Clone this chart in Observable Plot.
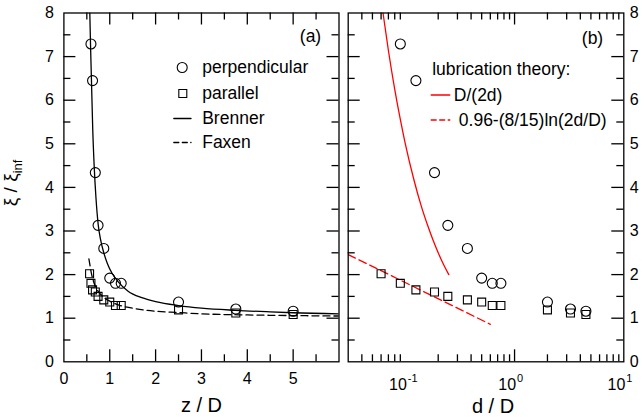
<!DOCTYPE html>
<html><head><meta charset="utf-8">
<script src="https://cdn.jsdelivr.net/npm/d3@7"></script>
<script src="https://cdn.jsdelivr.net/npm/@observablehq/plot@0.6"></script>
<style>
html,body{margin:0;padding:0;background:#fff;}
#wrap{position:relative;width:644px;height:417px;overflow:hidden;background:#fff;}
#wrap > svg{position:absolute;top:0;}
</style></head><body><div id="wrap"></div>
<script>
// ---- data ----
// measured gap d/D (panel b) ; panel a uses z/D = d/D + 1/2
const perpD  = [0.09, 0.125, 0.185, 0.245, 0.37, 0.5, 0.625, 0.75, 2.0, 3.25, 4.5];
const perpXi = [7.29, 6.45, 4.34, 3.13, 2.6, 1.92, 1.8, 1.8, 1.37, 1.21, 1.16];
const parD   = [0.06, 0.09, 0.125, 0.185, 0.245, 0.37, 0.5, 0.625, 0.75, 2.0, 3.25, 4.5];
const parXi  = [2.02, 1.80, 1.65, 1.60, 1.50, 1.42, 1.37, 1.29, 1.29, 1.19, 1.12, 1.085];
// Brenner curve (panel a)
const brennerZ  = [0.565, 0.58, 0.60, 0.63, 0.66, 0.70, 0.75, 0.80, 0.87, 0.95, 1.05, 1.18, 1.4, 1.7, 2.0, 2.5, 3.0, 3.75, 4.5, 5.0, 6.0];
const brennerXi = [8.0, 7.3, 6.5, 5.3, 4.5, 3.75, 3.13, 2.8, 2.5, 2.25, 2.03, 1.84, 1.62, 1.47, 1.38, 1.29, 1.23, 1.18, 1.145, 1.125, 1.1];
// Faxen curve (panel a)
const faxenZ  = [0.545, 0.56, 0.6, 0.65, 0.7, 0.8, 0.9, 1.0, 1.2, 1.5, 2.0, 2.5, 3.0, 4.0, 5.0, 6.0];
const faxenXi = [2.36, 2.27, 2.03, 1.83, 1.70, 1.55, 1.45, 1.39, 1.30, 1.23, 1.16, 1.13, 1.10, 1.075, 1.06, 1.05];
// lubrication theory (panel b)
const lubPerpD  = [0.0625, 0.07, 0.08, 0.09, 0.1, 0.12, 0.14, 0.16, 0.18, 0.2, 0.225, 0.25];
const lubPerpXi = [8.0, 7.14, 6.25, 5.56, 5.0, 4.17, 3.57, 3.13, 2.78, 2.5, 2.22, 2.0];
const lubParD   = [0.03, 0.6];
const lubParXi  = [2.46, 0.86];
// ticks
const yLabels   = [0, 1, 2, 3, 4, 5, 6, 7, 8];
const yMajor    = [1, 2, 3, 4, 5, 6, 7];
const yMinor    = [0.5, 1.5, 2.5, 3.5, 4.5, 5.5, 6.5, 7.5];
const zLabels   = [0, 1, 2, 3, 4, 5];
const zMajor    = [1, 2, 3, 4, 5];
const zMinor    = [0.5, 1.5, 2.5, 3.5, 4.5, 5.5];
const dDecades  = [0.1, 1, 10];
const dExponents = ["-1", "0", "1"];
const dMinor    = [0.04, 0.05, 0.06, 0.07, 0.08, 0.09, 0.2, 0.3, 0.4, 0.5, 0.6, 0.7, 0.8, 0.9, 2, 3, 4, 5, 6, 7, 8, 9];

const perp = perpD.map((d, i) => ({d, z: d + 0.5, xi: perpXi[i]}));
const par  = parD.map((d, i) => ({d, z: d + 0.5, xi: parXi[i]}));
const brenner = brennerZ.map((z, i) => ({z, xi: brennerXi[i]}));
const faxen   = faxenZ.map((z, i) => ({z, xi: faxenXi[i]}));
const lubPerp = lubPerpD.map((d, i) => ({d, xi: lubPerpXi[i]}));
const lubPar  = lubParD.map((d, i) => ({d, xi: lubParXi[i]}));

// ---- layout ----
const FONT = '"Liberation Sans", Arial, Helvetica, sans-serif';
const TOP = 12.5, BOTTOM = 361.3, FULLH = 417;
const A = {left: 63.4, right: 338.5, svgX: 0, svgW: 343};
const B = {left: 347.7, right: 623.3, svgX: 343, svgW: 301};
const MAJ = 12, MIN = 7, SW = 1.3;
const innerH = BOTTOM - TOP;
const style = {fontFamily: FONT, fontSize: "16px", color: "black", background: "transparent", overflow: "visible"};
const LEG = 17.5;

function boxTicks(xVals, yVals, innerW, len) {
  const o = {stroke: "black", strokeWidth: SW};
  return [
    Plot.tickX(xVals, {...o, x: d => d, insetTop: innerH - len}),
    Plot.tickX(xVals, {...o, x: d => d, insetBottom: innerH - len}),
    Plot.tickY(yVals, {...o, y: d => d, insetRight: innerW - len}),
    Plot.tickY(yVals, {...o, y: d => d, insetLeft: innerW - len})
  ];
}
const hline = {draw(context, l) { context.moveTo(0, 0); context.lineTo(l, 0); }};
function swatch(P, x1, x2, y, opts) {
  return Plot.vector([0], {frameAnchor: "top-left", dx: x1 - P.left, dy: y - TOP, length: x2 - x1,
    rotate: 0, anchor: "start", shape: hline, strokeWidth: SW, ...opts});
}
function legText(P, x, y, t, extra = {}) {
  return Plot.text([t], {frameAnchor: "top-left", dx: x - P.left, dy: y - TOP, text: d => d,
    textAnchor: "start", lineAnchor: "middle", fontSize: LEG, fill: "black", ...extra});
}

// ---- panel (a) ----
const innerWA = A.right - A.left;
const svgA = Plot.plot({
  width: A.svgW, height: FULLH,
  marginLeft: A.left - A.svgX, marginRight: A.svgX + A.svgW - A.right,
  marginTop: TOP, marginBottom: FULLH - BOTTOM,
  style,
  x: {type: "linear", domain: [0, 6]},
  y: {type: "linear", domain: [0, 8]},
  marks: [
    ...boxTicks(zMajor, yMajor, innerWA, MAJ),
    ...boxTicks(zMinor, yMinor, innerWA, MIN),
    Plot.axisX(zLabels, {anchor: "bottom", tickSize: 0, tickPadding: 11, fontSize: 16, label: null}),
    Plot.axisY(yLabels, {anchor: "left", tickSize: 0, tickPadding: 10, fontSize: 16, label: null}),
    Plot.line(faxen, {x: "z", y: "xi", stroke: "black", strokeWidth: SW, strokeDasharray: "7,4", curve: "monotone-x", clip: true}),
    Plot.line(brenner, {x: "z", y: "xi", stroke: "black", strokeWidth: SW, curve: "monotone-x", clip: true}),
    Plot.dot(perp, {x: "z", y: "xi", r: 5, stroke: "black", strokeWidth: 1.1, fill: "none"}),
    Plot.dot(par, {x: "z", y: "xi", symbol: "square", r: 4.5, stroke: "black", strokeWidth: 1.1, fill: "none"}),
    // legend
    Plot.dot([0], {frameAnchor: "top-left", dx: 181.7 - A.left, dy: 67 - TOP, r: 5, stroke: "black", strokeWidth: 1.1, fill: "none"}),
    Plot.dot([0], {frameAnchor: "top-left", dx: 182.3 - A.left, dy: 93 - TOP, symbol: "square", r: 4.5, stroke: "black", strokeWidth: 1.1, fill: "none"}),
    swatch(A, 173.3, 190.5, 118, {stroke: "black"}),
    swatch(A, 173.3, 190.5, 142, {stroke: "black", strokeDasharray: "5,3.5"}),
    legText(A, 201.7, 67, "perpendicular"),
    legText(A, 201.7, 93, "parallel"),
    legText(A, 201.7, 118, "Brenner"),
    legText(A, 201.7, 142, "Faxen"),
    legText(A, 320.7, 36, "(a)", {textAnchor: "end"}),
    Plot.text(["z / D"], {frameAnchor: "bottom", dy: 44, text: d => d, fontSize: 20, lineAnchor: "middle", fill: "black"}),
    Plot.frame({stroke: "black", strokeWidth: SW})
  ]
});
svgA.style.left = A.svgX + "px";

// y title with subscript
const yt = d3.select(svgA).append("text")
  .attr("transform", `translate(17,${(TOP + BOTTOM) / 2 - 4}) rotate(-90)`)
  .attr("text-anchor", "middle").attr("font-size", 19).attr("font-family", FONT).attr("fill", "black");
yt.append("tspan").text("ξ / ξ");
yt.append("tspan").attr("font-size", 13).attr("dy", "0.35em").text("inf");

// ---- panel (b) ----
const innerWB = B.right - B.left;
const svgB = Plot.plot({
  width: B.svgW, height: FULLH,
  marginLeft: B.left - B.svgX, marginRight: B.svgX + B.svgW - B.right,
  marginTop: TOP, marginBottom: FULLH - BOTTOM,
  style,
  x: {type: "log", domain: [0.03, 10], axis: null},
  y: {type: "linear", domain: [0, 8]},
  marks: [
    ...boxTicks([1], yMajor, innerWB, MAJ),
    ...boxTicks(dMinor, yMinor, innerWB, MIN),
    Plot.axisY(yLabels, {anchor: "right", tickSize: 0, tickPadding: 6, fontSize: 16, label: null}),
    Plot.text(dDecades, {x: d => d, text: () => "10", frameAnchor: "bottom", lineAnchor: "top", dy: 16.5, dx: 1.5, textAnchor: "end", fontSize: 16, fill: "black"}),
    Plot.text(dDecades, {x: d => d, text: (d, i) => dExponents[i], frameAnchor: "bottom", lineAnchor: "top", dy: 12.5, dx: 2.5, textAnchor: "start", fontSize: 11, fill: "black"}),
    Plot.line(lubPerp, {x: "d", y: "xi", stroke: "#ff0000", strokeWidth: SW, curve: "monotone-x", clip: true}),
    Plot.line(lubPar, {x: "d", y: "xi", stroke: "#ff0000", strokeWidth: SW, strokeDasharray: "8,4", clip: true}),
    Plot.dot(perp, {x: "d", y: "xi", r: 5, stroke: "black", strokeWidth: 1.1, fill: "none"}),
    Plot.dot(par, {x: "d", y: "xi", symbol: "square", r: 4.5, stroke: "black", strokeWidth: 1.1, fill: "none"}),
    // legend
    legText(B, 431.7, 69, "lubrication theory:"),
    swatch(B, 430.7, 449.3, 94.5, {stroke: "#ff0000"}),
    swatch(B, 430.7, 449.3, 119.5, {stroke: "#ff0000", strokeDasharray: "5,3.5"}),
    legText(B, 453.3, 94.5, "D/(2d)"),
    legText(B, 458.3, 119.5, "0.96-(8/15)ln(2d/D)"),
    legText(B, 602.7, 38, "(b)", {textAnchor: "end"}),
    Plot.text(["d / D"], {frameAnchor: "bottom", dy: 45, dx: 7, text: d => d, fontSize: 20, lineAnchor: "middle", fill: "black"}),
    Plot.frame({stroke: "black", strokeWidth: SW})
  ]
});
svgB.style.left = B.svgX + "px";

const wrap = document.getElementById("wrap");
wrap.appendChild(svgA);
wrap.appendChild(svgB);
</script>
</body></html>
